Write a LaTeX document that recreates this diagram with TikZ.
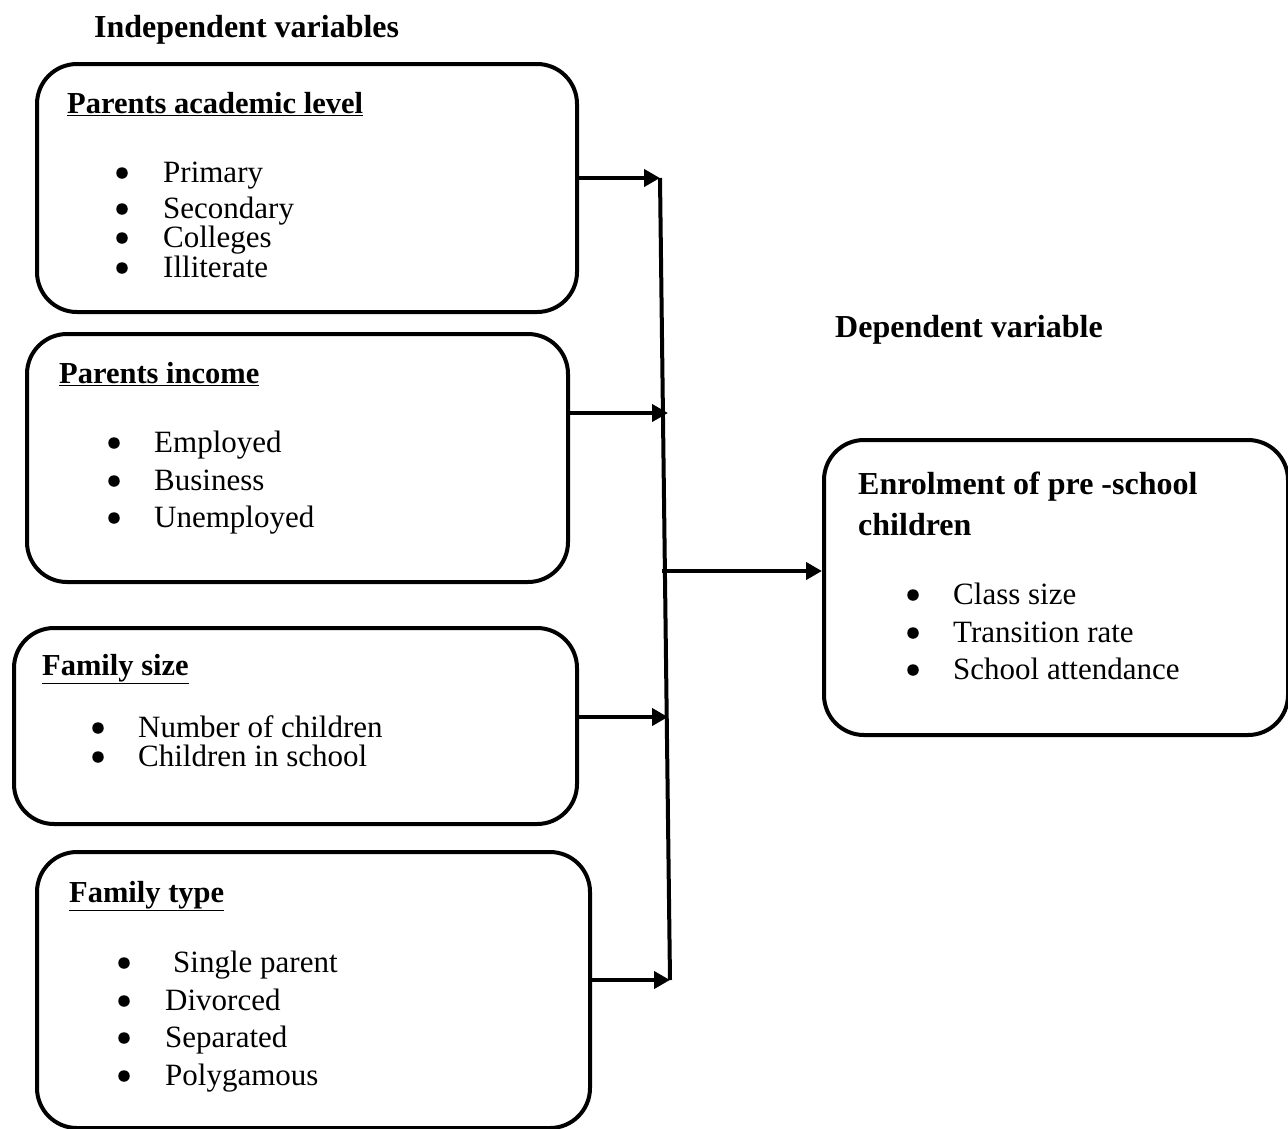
\documentclass[tikz,border=0pt]{standalone}
\usepackage{fontspec}
\setmainfont{Liberation Serif}
\usetikzlibrary{arrows.meta,calc}

\tikzset{
  box/.style={draw, line width=4pt, rounded corners=40pt, anchor=north west, inner sep=0pt},
  head/.style={anchor=base west, inner sep=0pt, font=\bfseries\fontsize{32}{34}\selectfont},
  subhead/.style={head, font=\bfseries\fontsize{30.5}{33}\selectfont},
  item/.style={anchor=base west, inner sep=0pt, font=\fontsize{31}{33}\selectfont},
  dot/.style={circle, fill, inner sep=0pt, minimum size=11.5pt},
  bar/.style={line width=4pt},
  arr/.style={line width=4pt, -{Triangle[length=16pt,width=17pt]}}
}

\begin{document}
\begin{tikzpicture}[x=1pt,y=-1pt,line cap=butt,line join=miter]
    \useasboundingbox (0,0) rectangle (1288,1128);

    % titles
    \node[head] (indep) at (94,37) {Independent variables};
    \node[head] (dep) at (835,337) {Dependent variable};

    % boxes
    \node[box, minimum width=540pt, minimum height=248pt] (pal) at (35,62) {};
    \node[box, minimum width=541pt, minimum height=248pt] (pin) at (25,332) {};
    \node[box, minimum width=563pt, minimum height=196pt] (fsz) at (12,626) {};
    \node[box, minimum width=553pt, minimum height=276pt] (fty) at (35,850) {};
    \node[box, minimum width=464pt, minimum height=295pt] (enr) at (822,438) {};

    % headings
    \node[subhead] (palh) at (67,113) {\underline{Parents academic level}};
    \node[subhead] (pinh) at (59,383) {\underline{Parents income}};
    \node[subhead] (fszh) at (42,675) {\underline{Family size}};
    \node[subhead] (ftyh) at (69,902) {\underline{Family type}};
    \node[head] (enrh) at (858,494) {Enrolment of pre -school};
    \node[head] (enrh2) at (858,535) {children};

    % bullet lists
    \foreach \y/\t in {182/Primary, 218/Secondary, 247/Colleges, 277/Illiterate}{
      \node[dot] at (122,\y-9) {};
      \node[item] at (163,\y) {\t};
    }
    \foreach \y/\t in {452/Employed, 490/Business, 527/Unemployed}{
      \node[dot] at (114,\y-9) {};
      \node[item] at (154,\y) {\t};
    }
    \foreach \y/\t in {737/Number of children, 766/Children in school}{
      \node[dot] at (98,\y-9) {};
      \node[item] at (138,\y) {\t};
    }
    \foreach \y in {972,1010,1047,1085}{
      \node[dot] at (124,\y-9) {};
    }
    \node[item] at (173,972) {Single parent};
    \foreach \y/\t in {1010/Divorced, 1047/Separated, 1085/Polygamous}{
      \node[item] at (165,\y) {\t};
    }
    \foreach \y/\t in {604/Class size, 642/Transition rate, 679/School attendance}{
      \node[dot] at (913,\y-9) {};
      \node[item] at (953,\y) {\t};
    }

    % collecting bar
    \coordinate (bartop) at (660,178);
    \coordinate (barbot) at (670,980);
    \coordinate (j2) at (668,413);
    \coordinate (j3) at (668,717);
    \coordinate (out) at (662,571);
    \draw[bar] (bartop) -- (barbot);

    % arrows
    \draw[arr] (pal.east |- bartop) -- (bartop);
    \draw[arr] (pin.east |- j2) -- (j2);
    \draw[arr] (fsz.east |- j3) -- (j3);
    \draw[arr] (fty.east |- barbot) -- (barbot);
    \draw[arr] (out) -- (out -| enr.west);

\end{tikzpicture}
\end{document}
